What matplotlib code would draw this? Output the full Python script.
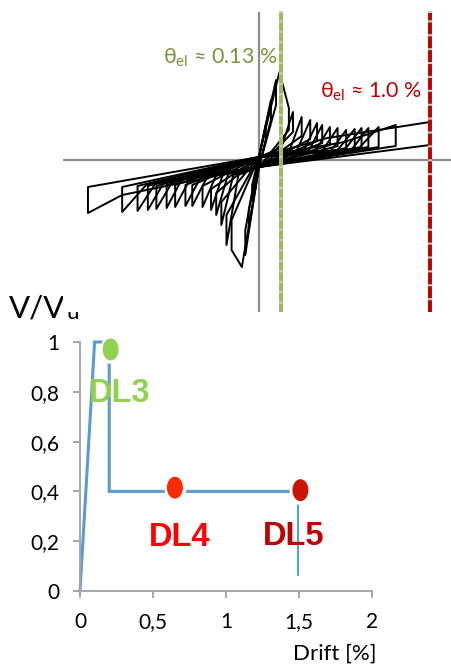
import numpy as np
import matplotlib
matplotlib.use("Agg")
import matplotlib.pyplot as plt
from matplotlib.path import Path
from matplotlib.transforms import Affine2D

plt.rcParams['font.family'] = ['Lato', 'DejaVu Sans']
plt.rcParams['lines.scale_dashes'] = False

# ---------------- cyclic test: key points of every cycle ----------------
# drift in %, force normalised (arbitrary units)
pos_peak_d = [0.04, 0.07, 0.10, 0.12, 0.199, 0.25, 0.30, 0.34, 0.37, 0.415, 0.46, 0.51, 0.56, 0.60, 0.64, 0.70, 0.80, 1.00]
pos_peak_F = [0.35, 0.60, 0.80, 0.88, 0.48, 0.43, 0.40, 0.37, 0.35, 0.33, 0.32, 0.30, 0.31, 0.32, 0.32, 0.33, 0.35, 0.38]
pos_knee_d = [0.02, 0.035, 0.05, 0.06, 0.13, 0.18, 0.22, 0.26, 0.29, 0.33, 0.37, 0.42, 0.46, 0.50, 0.54, 0.58, 0.50, 0.40]
pos_knee_F = [0.19, 0.32, 0.42, 0.46, 0.12, 0.10, 0.09, 0.09, 0.09, 0.09, 0.09, 0.09, 0.10, 0.10, 0.10, 0.11, 0.18, 0.22]
pos_end_d = [0.04, 0.07, 0.10, 0.175, 0.199, 0.25, 0.30, 0.34, 0.37, 0.415, 0.46, 0.51, 0.56, 0.60, 0.64, 0.70, 0.80, 1.00]
pos_end_F = [0.35, 0.60, 0.80, 0.52, 0.48, 0.43, 0.40, 0.37, 0.35, 0.33, 0.32, 0.30, 0.31, 0.32, 0.32, 0.33, 0.35, 0.38]
pos_unload_F = [0.20, 0.40, 0.55, 0.30, 0.28, 0.24, 0.21, 0.19, 0.17, 0.15, 0.14, 0.12, 0.12, 0.13, 0.13, 0.13, 0.14, 0.15]

neg_peak_d = [-0.04, -0.06, -0.08, -0.10, -0.19, -0.22, -0.25, -0.28, -0.33, -0.39, -0.43, -0.49, -0.54, -0.60, -0.65, -0.71, -0.80, -1.00]
neg_peak_F = [-0.40, -0.70, -0.95, -1.07, -0.85, -0.65, -0.55, -0.50, -0.47, -0.46, -0.46, -0.47, -0.48, -0.49, -0.50, -0.51, -0.52, -0.53]
neg_knee_d = [-0.02, -0.03, -0.04, -0.05, -0.12, -0.15, -0.18, -0.21, -0.25, -0.30, -0.34, -0.40, -0.45, -0.50, -0.55, -0.60, -0.66, -0.80]
neg_knee_F = [-0.21, -0.38, -0.50, -0.57, -0.15, -0.15, -0.14, -0.14, -0.15, -0.16, -0.17, -0.18, -0.19, -0.20, -0.21, -0.22, -0.25, -0.35]
neg_end_d = [-0.04, -0.06, -0.08, -0.16, -0.19, -0.22, -0.25, -0.28, -0.33, -0.39, -0.43, -0.49, -0.54, -0.60, -0.65, -0.71, -0.80, -1.00]
neg_end_F = [-0.40, -0.70, -0.95, -0.90, -0.85, -0.65, -0.55, -0.50, -0.47, -0.46, -0.46, -0.47, -0.48, -0.49, -0.50, -0.51, -0.52, -0.53]
neg_unload_F = [-0.25, -0.50, -0.70, -0.60, -0.55, -0.42, -0.33, -0.29, -0.26, -0.25, -0.25, -0.25, -0.25, -0.26, -0.26, -0.26, -0.27, -0.27]

# force when the drift passes zero (towards negative / towards positive)
cross_neg_F = -0.07
cross_pos_F = 0.03

theta_green = 0.13
theta_red = 1.0

# ---------------- capacity curve ----------------
cap_drift = [0, 0.1, 0.2, 0.2, 1.5]
cap_V = [0, 1.0, 1.0, 0.4, 0.4]
fail_drift = [1.49, 1.49]
fail_V = [0.4, 0.065]

dl_names = ['DL3', 'DL4', 'DL5']
dl_drift = [0.21, 0.65, 1.51]
dl_V = [0.97, 0.415, 0.405]
dl_marker_colors = ['#92d050', '#ff2a00', '#c81400']
dl_text_colors = ['#92d050', '#ff0000', '#c00000']
dl_text_drift = [0.27, 0.685, 1.46]
dl_text_V = [0.795, 0.213, 0.218]

y_ticks = [0, 0.2, 0.4, 0.6, 0.8, 1.0]
y_labels = ['0', '0,2', '0,4', '0,6', '0,8', '1']
x_ticks = [0, 0.5, 1, 1.5, 2]
x_labels = ['0', '0,5', '1', '1,5', '2']

W, H = 452, 667
fig = plt.figure(figsize=(W / 100, H / 100), dpi=100)


def fx(px):
    return px / W


def fy(py):
    return 1 - py / H


# ==========================================
# hysteresis panel
# ==========================================
ax1 = fig.add_axes([fx(63), fy(312), fx(452 - 63), 312 / H])
ax1.set_facecolor('white')
for s in ax1.spines.values():
    s.set_visible(False)
ax1.set_xticks([])
ax1.set_yticks([])
ax1.set_xlim(-1.146, 1.129)
ax1.set_ylim(-1.52, 1.60)

ax1.axhline(0, color='#8c8c8c', lw=1.6, zorder=1)
ax1.axvline(0, ymax=0.958, color='#8c8c8c', lw=1.6, zorder=1)

for i in range(len(pos_peak_d)):
    xs = [0, pos_knee_d[i], pos_peak_d[i], pos_end_d[i], pos_end_d[i], 0,
          neg_knee_d[i], neg_peak_d[i], neg_end_d[i], neg_end_d[i], 0]
    ys = [cross_pos_F, pos_knee_F[i], pos_peak_F[i], pos_end_F[i], pos_unload_F[i], cross_neg_F,
          neg_knee_F[i], neg_peak_F[i], neg_end_F[i], neg_unload_F[i], cross_pos_F]
    ax1.plot(xs, ys, color='black', lw=1.4, solid_joinstyle='round', zorder=2)

for th, col, dash in [(theta_green, '#9bbb59', (6, 1.5)), (theta_red, '#c00000', (8.5, 1.5))]:
    ax1.axvline(th, ymax=0.958, color='#c8c8c8', lw=2.8, zorder=3)
    ax1.axvline(th, ymax=0.958, color=col, lw=2.8, linestyle=(0, dash), zorder=4)

fig.text(fx(163), fy(63), r'θ$_{\mathregular{el}}$ ≈ 0.13 %', color='#77933c',
         fontsize=15.4, va='baseline', ha='left')
fig.text(fx(320), fy(97), r'θ$_{\mathregular{el}}$ ≈ 1.0 %', color='#c00000',
         fontsize=15.4, va='baseline', ha='left')

# ==========================================
# capacity curve panel
# ==========================================
ax2 = fig.add_axes([fx(80), fy(591), fx(372 - 80), 249 / H])
ax2.set_xlim(0, 2)
ax2.set_ylim(0, 1)
ax2.patch.set_alpha(0)
for side in ['top', 'right']:
    ax2.spines[side].set_visible(False)
for side in ['left', 'bottom']:
    ax2.spines[side].set_color('#a6a6a6')
    ax2.spines[side].set_linewidth(1.4)
ax2.set_xticks(x_ticks)
ax2.set_xticklabels(x_labels)
ax2.set_yticks(y_ticks)
ax2.set_yticklabels(y_labels)
ax2.tick_params(axis='both', direction='out', length=5, width=1.4, color='#a6a6a6',
                labelsize=15, labelcolor='black', pad=10)

ax2.plot(cap_drift, cap_V, color='#5b9bd5', lw=2.2, solid_joinstyle='miter', clip_on=False, zorder=2)
ax2.plot(fail_drift, fail_V, color='#2e8fd8', lw=1.2, clip_on=False, zorder=2)

# tall elliptical markers with a white rim
ellipse = Path.unit_circle().transformed(Affine2D().scale(0.73, 1.0))
ax2.scatter(dl_drift, dl_V, s=20.0 ** 2, marker=ellipse, color='white', clip_on=False, zorder=3)
ax2.scatter(dl_drift, dl_V, s=15.8 ** 2, marker=ellipse, color=dl_marker_colors,
            linewidths=0, clip_on=False, zorder=4)

for name, xd, yv, col in zip(dl_names, dl_text_drift, dl_text_V, dl_text_colors):
    ax2.text(xd, yv, name, color=col, fontsize=23.5, fontweight='bold',
             family=['Liberation Sans', 'DejaVu Sans'], ha='center', va='center', zorder=5)

fig.text(fx(377), fy(654), 'Drift [%]', fontsize=16, ha='right', va='center')
# y label sits behind the upper panel, which hides the top of the subscript
fig.text(fx(9), fy(318), 'V/V', fontsize=22.5, ha='left', va='baseline', zorder=-1)
fig.text(fx(67), fy(319), 'u', fontsize=16, ha='left', va='baseline', zorder=-1)

fig.savefig('out.png', dpi=100)
